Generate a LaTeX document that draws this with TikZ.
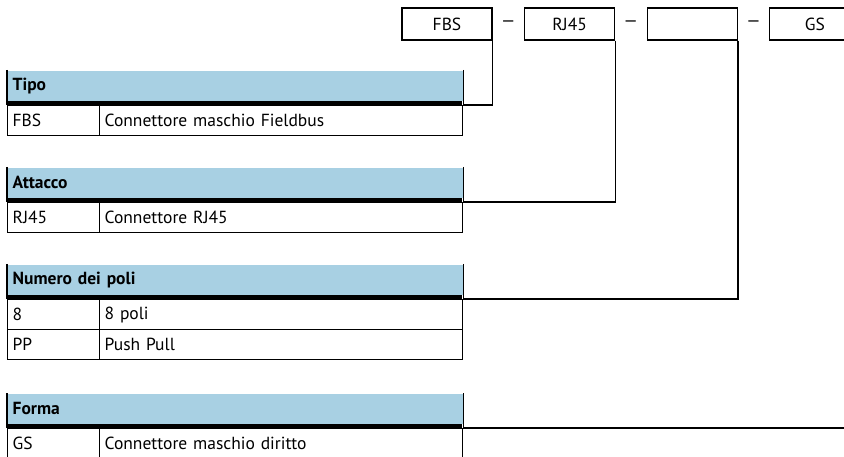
\documentclass[tikz,border=0pt]{standalone}
\usepackage{fontspec}
\setmainfont{PT Sans}
\usetikzlibrary{positioning}
\definecolor{headblue}{RGB}{168,208,227}

\begin{document}
\begin{tikzpicture}[
    x=1pt, y=-1pt,
    node distance=0pt,
    line width=1.3pt,
    font=\fontsize{17.5}{20}\selectfont,
    codebox/.style={draw, minimum width=90pt, minimum height=32pt, inner sep=0pt},
    sepdash/.style={minimum width=30pt, minimum height=32pt, inner sep=0pt},
    head/.style={fill=headblue, anchor=north west, text width=445pt, minimum height=30pt, inner xsep=5pt, inner ysep=0pt, align=left, font=\fontsize{17.5}{20}\selectfont\bfseries},
    codecell/.style={draw, anchor=north west, text width=82pt, minimum height=30pt, inner xsep=5pt, inner ysep=0pt, align=left},
    desccell/.style={draw, anchor=north west, text width=353pt, minimum height=30pt, inner xsep=5pt, inner ysep=0pt, align=left}
]
    \useasboundingbox (0,0) rectangle (844,457);

    % Codice d'ordine in alto
    \node [codebox] (fbs) at (447,24) {FBS};
    \node [sepdash, right=of fbs] (dash1) {—};
    \node [codebox, right=of dash1] (rj) {RJ45};
    \node [sepdash, right=of rj] (dash2) {—};
    \node [codebox, right=of dash2] (poli) {};
    \node [sepdash, right=of poli] (dash3) {—};
    \node [codebox, right=of dash3] (gs) {GS};

    % Tabella Tipo
    \node [head] (tipo) at (7,70) {Tipo};
    \fill (tipo.south west) rectangle ++(455,5);
    \draw (tipo.north west) -- ++(0,35) (tipo.north east) -- ++(0,35);
    \node [codecell] (tipo-c1) at (7,105) {FBS};
    \node [desccell] (tipo-d1) at (99,105) {Connettore maschio Fieldbus};

    % Tabella Attacco
    \node [head] (attacco) at (7,167) {Attacco};
    \fill (attacco.south west) rectangle ++(455,5);
    \draw (attacco.north west) -- ++(0,35) (attacco.north east) -- ++(0,35);
    \node [codecell] (attacco-c1) at (7,202) {RJ45};
    \node [desccell] (attacco-d1) at (99,202) {Connettore RJ45};

    % Tabella Numero dei poli
    \node [head] (numero) at (7,264) {Numero dei poli};
    \fill (numero.south west) rectangle ++(455,5);
    \draw (numero.north west) -- ++(0,35) (numero.north east) -- ++(0,35);
    \node [codecell] (numero-c1) at (7,299) {8};
    \node [desccell] (numero-d1) at (99,299) {8 poli};
    \node [codecell] (numero-c2) at (7,329) {PP};
    \node [desccell] (numero-d2) at (99,329) {Push Pull};

    % Tabella Forma
    \node [head] (forma) at (7,393) {Forma};
    \fill (forma.south west) rectangle ++(455,5);
    \draw (forma.north west) -- ++(0,35) (forma.north east) -- ++(0,35);
    \node [codecell] (forma-c1) at (7,428) {GS};
    \node [desccell] (forma-d1) at (99,428) {Connettore maschio diritto};

    % Linee di collegamento
    \draw (fbs.south east) |- (tipo-d1.north east);
    \draw (rj.south east) |- (attacco-d1.north east);
    \draw (poli.south east) |- (numero-d1.north east);
    \draw (gs.south east) |- (forma-d1.north east);
\end{tikzpicture}
\end{document}
